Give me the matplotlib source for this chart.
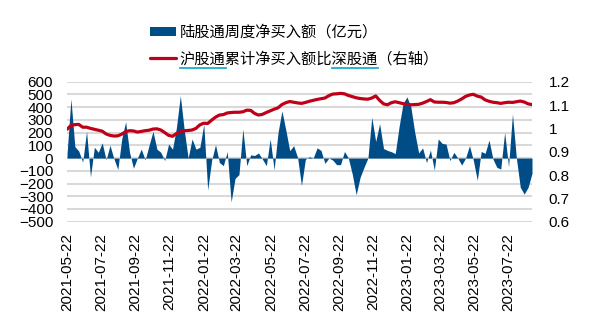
import numpy as np
import pandas as pd
import matplotlib
matplotlib.use("Agg")
import matplotlib.pyplot as plt
import matplotlib.dates as mdates
from matplotlib.patches import Patch
from matplotlib.lines import Line2D

plt.rcParams['font.family'] = ['Liberation Sans', 'Noto Sans CJK SC', 'DejaVu Sans']

# weekly dates
dates = pd.date_range('2021-05-22', periods=120, freq='7D')

# 陆股通周度净买入额（亿元）
weekly_net_buy = [
    30, 465, 90, 55, -32, 210, -148, 85, 45, 120,
    -14, 100, -5, -90, 150, 285, 45, -80, 0, 70,
    -15, 100, 210, 70, 45, -20, 110, 70, 240, 490,
    220, 0, 150, 70, 85, 265, -250, -20, 105, -35,
    -60, 50, -345, -160, -130, 228, -60, 25, 20, 40,
    -8, -60, 150, -92, 200, 370, 220, 58, 97, 5,
    -215, -10, 10, 0, 80, 60, -42, 0, -16, -52,
    -52, 52, 0, -126, -288, -152, -73, 0, 320, 130,
    270, 75, 60, 50, 35, 250, 430, 480, 400, 200,
    40, 80, -35, 63, -95, 150, 115, 110, -20, 45,
    0, -55, 0, 97, -20, -175, 52, 37, 141, -8,
    -73, -86, 202, -68, 346, 0, -230, -283, -230, -120,
]

# 沪股通累计净买入额比深股通（右轴）
sh_sz_ratio = [
    0.996, 1.012, 1.016, 1.017, 1.005, 1.005, 1.000, 0.996, 0.992, 0.988,
    0.976, 0.970, 0.967, 0.968, 0.975, 0.986, 0.990, 0.989, 0.984, 0.987,
    0.990, 0.992, 0.997, 0.998, 0.993, 0.982, 0.970, 0.966, 0.978, 0.985,
    0.990, 0.991, 0.993, 1.000, 1.015, 1.022, 1.021, 1.035, 1.048, 1.057,
    1.059, 1.066, 1.068, 1.069, 1.069, 1.071, 1.078, 1.077, 1.064, 1.057,
    1.060, 1.068, 1.075, 1.082, 1.088, 1.102, 1.110, 1.115, 1.112, 1.109,
    1.107, 1.111, 1.116, 1.120, 1.124, 1.127, 1.130, 1.140, 1.147, 1.148,
    1.150, 1.148, 1.141, 1.136, 1.131, 1.128, 1.126, 1.125, 1.130, 1.139,
    1.120, 1.105, 1.101, 1.110, 1.114, 1.110, 1.106, 1.103, 1.101, 1.102,
    1.103, 1.108, 1.115, 1.123, 1.113, 1.112, 1.112, 1.111, 1.108, 1.110,
    1.117, 1.126, 1.137, 1.143, 1.146, 1.138, 1.134, 1.122, 1.116, 1.112,
    1.110, 1.107, 1.110, 1.112, 1.111, 1.114, 1.117, 1.113, 1.105, 1.102,
]

left_ticks = list(range(-500, 700, 100))
right_ticks = [0.6, 0.7, 0.8, 0.9, 1.0, 1.1, 1.2]
right_labels = ['0.6', '0.7', '0.8', '0.9', '1', '1.1', '1.2']
label_bar = '陆股通周度净买入额（亿元）'
label_line = '沪股通累计净买入额比深股通（右轴）'
underlined = [(0, 3), (10, 13)]  # char spans with cyan underline

blue = '#004C87'
red = '#C00018'
cyan = '#1AAFC9'
grid_c = '#D9D9D9'

fig = plt.figure(figsize=(5.9, 3.31), dpi=100)
ax = fig.add_axes([0.1136, 0.3302, 0.7881, 0.4230])

ax.set_ylim(-500, 600)
ax.set_yticks(left_ticks)
ax.yaxis.grid(True, color=grid_c, linewidth=1.5)
ax.set_axisbelow(True)
ax.fill_between(dates, weekly_net_buy, 0, color=blue, linewidth=0, zorder=2)

ax.set_xlim(dates[0], dates[-1])
xt = pd.date_range('2021-05-22', '2023-07-22', freq=pd.DateOffset(months=2))
ax.set_xticks(xt)
ax.xaxis.set_major_formatter(mdates.DateFormatter('%Y-%m-%d'))
ax.tick_params(axis='x', rotation=90, length=0, pad=8, labelsize=11)
ax.tick_params(axis='y', length=0, pad=10, labelsize=11)
for s in ax.spines.values():
    s.set_visible(False)

ax2 = ax.twinx()
ax2.set_ylim(0.6, 1.2)
ax2.set_yticks(right_ticks)
ax2.set_yticklabels(right_labels)
ax2.tick_params(axis='y', length=0, pad=12, labelsize=11)
for s in ax2.spines.values():
    s.set_visible(False)
ax2.plot(dates, sh_sz_ratio, color=red, linewidth=2.3, solid_capstyle='round', zorder=3)

handles = [Patch(facecolor=blue, edgecolor='none'),
           Line2D([0], [0], color=red, linewidth=2.3, solid_capstyle='round')]
leg = fig.legend(handles, [label_bar, label_line], loc='upper left',
                 bbox_to_anchor=(150 / 590, 1 - 24 / 331), frameon=False,
                 handlelength=1.7, handleheight=0.46, handletextpad=0.25,
                 labelspacing=0.6, borderpad=0, borderaxespad=0,
                 prop={'family': ['Noto Sans CJK SC'], 'size': 11})

# cyan underlines under 沪股通 / 深股通
fig.canvas.draw()
ext = leg.get_texts()[1].get_window_extent()
cw = ext.width / len(label_line)
uy = ext.y0 - 1
inv = fig.transFigure.inverted()
for a, b in underlined:
    p0 = inv.transform((ext.x0 + a * cw, uy))
    p1 = inv.transform((ext.x0 + b * cw, uy))
    fig.add_artist(Line2D([p0[0], p1[0]], [p0[1], p1[1]], color=cyan,
                          linewidth=1.3, transform=fig.transFigure))

fig.savefig('out.png', dpi=100)
